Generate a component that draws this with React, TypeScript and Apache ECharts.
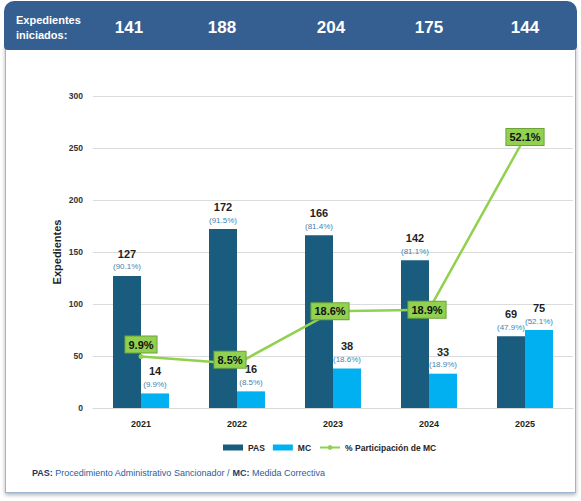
import React, { useEffect, useRef } from "react";
import * as echarts from "echarts";

const years = ["2021", "2022", "2023", "2024", "2025"];
const pasValues = [127, 172, 166, 142, 69];
const mcValues = [14, 16, 38, 33, 75];
const pasShare = [90.1, 91.5, 81.4, 81.1, 47.9];
const mcShare = [9.9, 8.5, 18.6, 18.9, 52.1];
const totals = [141, 188, 204, 175, 144];
const yTicks = { min: 0, max: 300, interval: 50 };

const SANS = "'Liberation Sans', Arial, sans-serif";

// label nudges (layout only)
const lineLabelOffsets = [[0, -12], [-7, -4], [-3, 0], [-2, 0], [0, 0]];
const headerShift = [24, 30, 4, 0, 0];

export default function App() {
  const ref = useRef<HTMLDivElement>(null);
  useEffect(() => {
    if (!ref.current) return;
    const chart = echarts.init(ref.current, undefined, { renderer: "svg" });
    const headerRich: any = {};
    headerShift.forEach((s, i) => {
      headerRich["h" + i] = {
        color: "#ffffff",
        fontFamily: SANS,
        fontWeight: "bold",
        fontSize: 17,
        padding: [0, s, 0, 0],
      };
    });
    const barRich = {
      v: { fontFamily: SANS, fontWeight: "bold", fontSize: 11, color: "#1f1f1f", lineHeight: 14 },
      p: { fontFamily: SANS, fontSize: 8, color: "#4A7FAE", lineHeight: 12 },
    };
    chart.setOption({
      animation: false,
      grid: { left: 93, right: 8, top: 96, bottom: 93 },
      legend: {
        left: 223,
        top: 443,
        padding: 0,
        itemWidth: 20,
        itemHeight: 6,
        itemGap: 8,
        textStyle: { fontFamily: SANS, fontWeight: "bold", fontSize: 8.5, color: "#262626" },
        data: [
          { name: "PAS", icon: "rect" },
          { name: "MC", icon: "rect" },
          { name: "% Participación de MC" },
        ],
      },
      xAxis: [
        {
          type: "category",
          data: years,
          axisLine: { lineStyle: { color: "#D9D9D9", width: 1 } },
          axisTick: { show: false },
          axisLabel: {
            fontFamily: SANS,
            fontWeight: "bold",
            fontSize: 9,
            color: "#1f1f1f",
            margin: 11,
          },
        },
        {
          type: "category",
          position: "top",
          offset: 69,
          data: totals.map(String),
          axisLine: { show: false },
          axisTick: { show: false },
          axisLabel: {
            margin: 0,
            verticalAlign: "middle",
            formatter: (v: string, i: number) => `{h${i}|${v}}`,
            rich: headerRich,
          },
        },
      ],
      yAxis: [
        {
          type: "value",
          min: yTicks.min,
          max: yTicks.max,
          interval: yTicks.interval,
          name: "Expedientes",
          nameLocation: "middle",
          nameGap: 31,
          nameMoveOverlap: false,
          nameTextStyle: { fontFamily: SANS, fontWeight: "bold", fontSize: 11, color: "#1f1f1f" },
          axisLine: { show: false },
          axisTick: { show: false },
          axisLabel: {
            fontFamily: SANS,
            fontWeight: "bold",
            fontSize: 8.5,
            color: "#333333",
            margin: 10,
          },
          splitLine: { lineStyle: { color: "#DCDCDC", width: 1 } },
        },
        {
          type: "value",
          min: 0,
          max: 60,
          interval: 10,
          show: false,
          splitLine: { show: false },
        },
      ],
      series: [
        {
          name: "PAS",
          type: "bar",
          data: pasValues,
          barWidth: 28,
          barGap: "0%",
          itemStyle: { color: "#1A5C7E" },
          label: {
            show: true,
            position: "top",
            distance: 3,
            formatter: (p: any) =>
              `{v|${pasValues[p.dataIndex]}}\n{p|(${pasShare[p.dataIndex].toFixed(1)}%)}`,
            rich: barRich,
          },
        },
        {
          name: "MC",
          type: "bar",
          data: mcValues,
          barWidth: 28,
          barGap: "0%",
          itemStyle: { color: "#00B0F0" },
          label: {
            show: true,
            position: "top",
            distance: 3,
            formatter: (p: any) =>
              `{v|${mcValues[p.dataIndex]}}\n{p|(${mcShare[p.dataIndex].toFixed(1)}%)}`,
            rich: barRich,
          },
        },
        {
          name: "% Participación de MC",
          type: "line",
          yAxisIndex: 1,
          data: mcShare.map((v, i) => ({
            value: v,
            label: { offset: lineLabelOffsets[i] },
          })),
          symbol: "circle",
          symbolSize: 5,
          itemStyle: { color: "#92D050" },
          lineStyle: { color: "#92D050", width: 2.5 },
          z: 5,
          label: {
            show: true,
            position: "inside",
            formatter: (p: any) => `${Number(p.value).toFixed(1)}%`,
            fontFamily: SANS,
            fontWeight: "bold",
            fontSize: 11,
            color: "#111111",
            backgroundColor: "#92D050",
            borderColor: "#6BA539",
            borderWidth: 1,
            padding: [3, 3, 2, 3],
          },
        },
      ],
      graphic: [
        {
          type: "text",
          left: 16,
          top: 12,
          style: {
            text: "Expedientes\niniciados:",
            fill: "#ffffff",
            font: `bold 11px ${SANS}`,
            lineHeight: 15,
            align: "center",
            x: 31,
          },
        },
        {
          type: "text",
          left: 32,
          top: 468,
          style: {
            text: "{b|PAS:}{n| Procedimiento Administrativo Sancionador / }{b|MC:}{n| Medida Correctiva}",
            rich: {
              b: { fontFamily: SANS, fontWeight: "bold", fontSize: 9, fill: "#1F3864" },
              n: { fontFamily: SANS, fontSize: 9, fill: "#2E5C9A" },
            },
          },
        },
      ],
    });
    return () => chart.dispose();
  }, []);

  return (
    <div style={{ position: "fixed", left: 0, top: 0, width: 581, height: 501, background: "#ffffff" }}>
      <div
        style={{
          position: "absolute",
          left: 5,
          top: 44,
          width: 571,
          height: 449,
          boxSizing: "border-box",
          border: "1.5px solid #9BB5D3",
          boxShadow: "0 2px 4px rgba(0,0,0,0.3)",
          background: "#ffffff",
        }}
      />
      <div
        style={{
          position: "absolute",
          left: 4,
          top: 1,
          width: 573,
          height: 49,
          background: "#365F91",
          borderRadius: "10px 10px 4px 4px",
        }}
      />
      <div ref={ref} style={{ position: "absolute", left: 0, top: 0, width: 581, height: 501 }} />
    </div>
  );
}
